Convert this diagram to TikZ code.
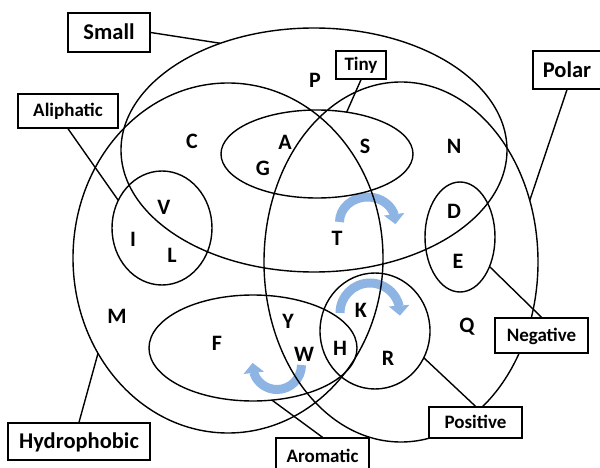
\documentclass[tikz,border=0pt]{standalone}
\usepackage{fontspec}
\setmainfont{Carlito}
\usepackage{xcolor}
\usetikzlibrary{positioning,arrows.meta,bending,calc}
\definecolor{turnblue}{RGB}{141,180,226}

\begin{document}
\begin{tikzpicture}[x=1pt, y=-1pt, line width=1.4pt,
    acid/.style={font=\bfseries\fontsize{22}{24}\selectfont, inner sep=0pt},
    setlabel/.style={draw, fill=white, line width=1.4pt, inner sep=0pt,
      font=\bfseries\fontsize{22.5}{24}\selectfont, text height=14.2pt, text depth=0pt},
    sublabel/.style={setlabel, font=\bfseries\fontsize{19}{20}\selectfont, text height=12pt},
    turn/.style={draw=turnblue, line width=9pt, -{Triangle[width=20pt, length=10pt, flex]}}]
  \clip (0,0) rectangle (600,468);

  % centres of the sets
  \coordinate (smallc) at (314,150);
  \coordinate (tinyc) at (317,154);
  \coordinate (polarc) at (401,262);
  \coordinate (hydroc) at (228,258);
  \coordinate (aliphc) at (162,228);
  \coordinate (negc) at (460,237);
  \coordinate (posc) at (375,331);
  \coordinate (aromc) at (253,348);

  % turn arrows
  \draw[turn] (339.5,222) arc[start angle=180, end angle=365, x radius=28, y radius=25];
  \draw[turn] (340,313) arc[start angle=180, end angle=365, x radius=30, y radius=30];
  \draw[turn] (301.5,365) arc[start angle=0, end angle=185, x radius=24.5, y radius=24.5];

  % sets
  \draw (smallc) ellipse[x radius=193, y radius=122];
  \draw (tinyc) ellipse[x radius=96, y radius=44];
  \draw (polarc) ellipse[x radius=137, y radius=180];
  \draw (hydroc) ellipse[x radius=155, y radius=175];
  \draw (aliphc) ellipse[x radius=50, y radius=57];
  \draw (negc) ellipse[x radius=35, y radius=55];
  \draw (posc) ellipse[x radius=55, y radius=58];
  \draw (aromc) ellipse[x radius=104, y radius=53];

  % amino acids
  \node[acid] (P) at (315,80) {P};
  \node[acid] (C) at (192,141) {C};
  \node[acid] (A) at (285,142) {A};
  \node[acid] (G) at (263,168) {G};
  \node[acid] (S) at (365,146) {S};
  \node[acid] (N) at (454,146) {N};
  \node[acid] (V) at (164,207) {V};
  \node[acid] (I) at (133,239) {I};
  \node[acid] (L) at (172,255) {L};
  \node[acid] (D) at (454,211) {D};
  \node[acid] (T) at (337,238) {T};
  \node[acid] (E) at (458,261) {E};
  \node[acid] (M) at (117,316) {M};
  \node[acid] (K) at (361,310) {K};
  \node[acid] (Q) at (467,327) {Q};
  \node[acid] (F) at (217,343) {F};
  \node[acid] (Y) at (288,321) {Y};
  \node[acid] (W) at (304,354) {W};
  \node[acid] (H) at (340,348) {H};
  \node[acid] (R) at (388,358) {R};

  % ends of the pointers
  \coordinate (smallend) at ($(smallc)+(241:193 and 122)$);
  \coordinate (tinyend) at ($(tinyc)+(288:96 and 44)$);
  \coordinate (polarend) at ($(polarc)+(340:137 and 180)$);
  \coordinate (hydroend) at ($(hydroc)+(147:155 and 175)$);
  \coordinate (aliphend) at ($(aliphc)+(209:50 and 57)$);
  \coordinate (negend) at ($(negc)+(32.5:35 and 55)$);
  \coordinate (posend) at ($(posc)+(27.5:55 and 58)$);
  \coordinate (aromend) at ($(aromc)+(79.5:104 and 53)$);

  % labels
  \node[setlabel, minimum width=82pt, minimum height=39pt] (small) at (109,32.5) {Small};
  \node[setlabel, minimum width=68pt, minimum height=38pt] (polar) at (567,70) {Polar};
  \node[setlabel, minimum width=142pt, minimum height=37pt] (hydro) at (79,441.5) {Hydrophobic};
  \node[sublabel, minimum width=100pt, minimum height=34pt] (aliph) at (68,111) {Aliphatic};
  \node[sublabel, minimum width=50pt, minimum height=28pt] (tiny) at (361,65) {Tiny};
  \node[sublabel, minimum width=93pt, minimum height=35pt] (neg) at (541.5,335.5) {Negative};
  \node[sublabel, minimum width=93pt, minimum height=31pt] (pos) at (475.5,422.5) {Positive};
  \node[sublabel, minimum width=93pt, minimum height=36pt] (arom) at (322.5,456) {Aromatic};

  \draw (small.east) -- (smallend);
  \draw (polar.south) -- (polarend);
  \draw (hydro.north) -- (hydroend);
  \draw (aliph.south) -- (aliphend);
  \draw (tiny.south) -- (tinyend);
  \draw (neg.north) -- (negend);
  \draw (pos.north) -- (posend);
  \draw (arom.north) -- (aromend);
\end{tikzpicture}
\end{document}
